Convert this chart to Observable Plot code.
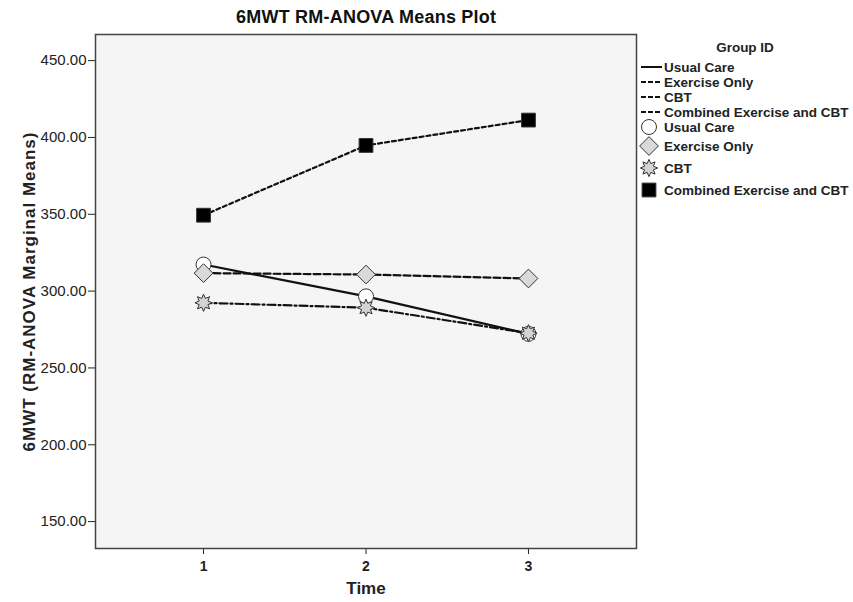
<!DOCTYPE html>
<html><head><meta charset="utf-8">
<script src="https://cdn.jsdelivr.net/npm/d3@7"></script>
<script src="https://cdn.jsdelivr.net/npm/@observablehq/plot@0.6"></script>
<style>
body{margin:0;background:#fff;font-family:"Liberation Sans",Arial,sans-serif;}
#wrap{position:relative;width:853px;height:602px;}
#legend{position:absolute;left:0;top:0;pointer-events:none;}
g[aria-label="y-axis label"] text{font-weight:bold !important;font-size:17px !important;letter-spacing:1px;}
g[aria-label="x-axis label"] text{font-weight:bold !important;font-size:17px !important;}
g[aria-label="x-axis tick label"] text{font-weight:bold !important;font-size:14px !important;}
g[aria-label="y-axis tick label"] text{font-size:15px !important;}
</style></head><body><div id="wrap"></div>
<script>
const title = "6MWT RM-ANOVA Means Plot";
const times = [1, 2, 3];
const groups = ["Usual Care", "Exercise Only", "CBT", "Combined Exercise and CBT"];
const usualCare = [317.3, 296.6, 272.2];
const exerciseOnly = [311.7, 310.8, 308.2];
const cbt = [292.4, 289.2, 272.6];
const combined = [349.4, 394.8, 411.3];
const yTicks = [150, 200, 250, 300, 350, 400, 450];
const yLabel = "6MWT (RM-ANOVA Marginal Means)";
const xLabel = "Time";
const legendTitle = "Group ID";

const series = [usualCare, exerciseOnly, cbt, combined];
const rows = groups.flatMap((g, i) => times.map((t, j) => ({group: g, time: t, value: series[i][j]})));

const symCircle = {draw(c, s) { const r = Math.sqrt(s / Math.PI); c.moveTo(r, 0); c.arc(0, 0, r, 0, 2 * Math.PI); }};
const symDiamond = {draw(c, s) { const r = Math.sqrt(s / Math.PI) * 1.25; c.moveTo(0, -r); c.lineTo(r, 0); c.lineTo(0, r); c.lineTo(-r, 0); c.closePath(); }};
const symSquare = {draw(c, s) { const h = Math.sqrt(s / Math.PI) * 0.92; c.rect(-h, -h, 2 * h, 2 * h); }};
const symStar = {draw(c, s) { const r = Math.sqrt(s / Math.PI) * 1.15, ri = r * 0.55, n = 8;
  for (let k = 0; k < 2 * n; k++) { const a = k * Math.PI / n - Math.PI / 2; const rr = k % 2 ? ri : r;
    const x = rr * Math.cos(a), y = rr * Math.sin(a); if (k) c.lineTo(x, y); else c.moveTo(x, y); }
  c.closePath(); }};

const styles = {
  "Usual Care": {dash: null, symbol: symCircle, fill: "#ffffff"},
  "Exercise Only": {dash: "7,3", symbol: symDiamond, fill: "#d9d9d9"},
  "CBT": {dash: "8,3,2,3", symbol: symStar, fill: "#d4d4d4"},
  "Combined Exercise and CBT": {dash: "4,3", symbol: symSquare, fill: "#000000"}
};

const lines = groups.map(g => Plot.line(rows.filter(d => d.group === g), {
  x: "time", y: "value", stroke: "#111", strokeWidth: 2.2, strokeDasharray: styles[g].dash
}));
const dots = groups.map(g => Plot.dot(rows.filter(d => d.group === g), {
  x: "time", y: "value", r: 7.5, symbol: styles[g].symbol, fill: styles[g].fill, stroke: "#333", strokeWidth: 1
}));

const chart = Plot.plot({
  width: 853, height: 602,
  marginLeft: 95, marginRight: 217, marginTop: 34, marginBottom: 54,
  style: {fontFamily: "'Liberation Sans', Arial, sans-serif", fontSize: "14px", color: "#222", background: "white"},
  x: {domain: [0.335, 3.665]},
  y: {domain: [132.5, 467]},
  marks: [
    Plot.frame({fill: "#f5f5f5", stroke: null}),
    Plot.axisY({ticks: yTicks, tickFormat: d => d.toFixed(2), tickSize: 7, tickPadding: 2,
      label: yLabel, labelAnchor: "center", labelOffset: 73, labelArrow: "none"}),
    Plot.axisX({ticks: times, tickFormat: d => String(d), tickSize: 6, tickPadding: 7,
      label: xLabel, labelAnchor: "center", labelOffset: 45, labelArrow: "none"}),
    ...lines,
    ...dots,
    Plot.frame({stroke: "#444", strokeWidth: 1.5}),
    Plot.text([title], {frameAnchor: "top", lineAnchor: "middle", dy: -17, fontWeight: "bold", fontSize: 18, fill: "#111"})
  ]
});
const wrap = document.getElementById("wrap");
wrap.appendChild(chart);
d3.select(chart).selectAll('g[aria-label="text"] text').attr("textLength", 260).attr("lengthAdjust", "spacing");

// Legend
const svg = d3.select(wrap).append("svg").attr("id", "legend").attr("width", 853).attr("height", 602)
  .style("font-family", "'Liberation Sans', Arial, sans-serif");
svg.append("text").attr("x", 745).attr("y", 47).attr("text-anchor", "middle").attr("dy", "0.35em")
  .attr("font-size", 13.5).attr("font-weight", "bold").attr("fill", "#222").text(legendTitle);
const lineRows = [67, 82, 97, 112];
const symRows = [127, 146, 168, 190];
groups.forEach((g, i) => {
  const y = lineRows[i];
  svg.append("line").attr("x1", 641).attr("x2", 662).attr("y1", y).attr("y2", y)
    .attr("stroke", "#111").attr("stroke-width", 2).attr("stroke-dasharray", styles[g].dash ? "5,2" : null);
  svg.append("text").attr("x", 664).attr("y", y).attr("dy", "0.35em").attr("font-size", 13.5)
    .attr("font-weight", "bold").attr("fill", "#222").text(g);
  const ys = symRows[i];
  svg.append("path").attr("transform", `translate(649,${ys})`)
    .attr("d", d3.symbol(styles[g].symbol, Math.PI * 7.5 * 7.5)())
    .attr("fill", styles[g].fill).attr("stroke", "#333").attr("stroke-width", 1);
  svg.append("text").attr("x", 664).attr("y", ys).attr("dy", "0.35em").attr("font-size", 13.5)
    .attr("font-weight", "bold").attr("fill", "#222").text(g);
});
</script></body></html>
